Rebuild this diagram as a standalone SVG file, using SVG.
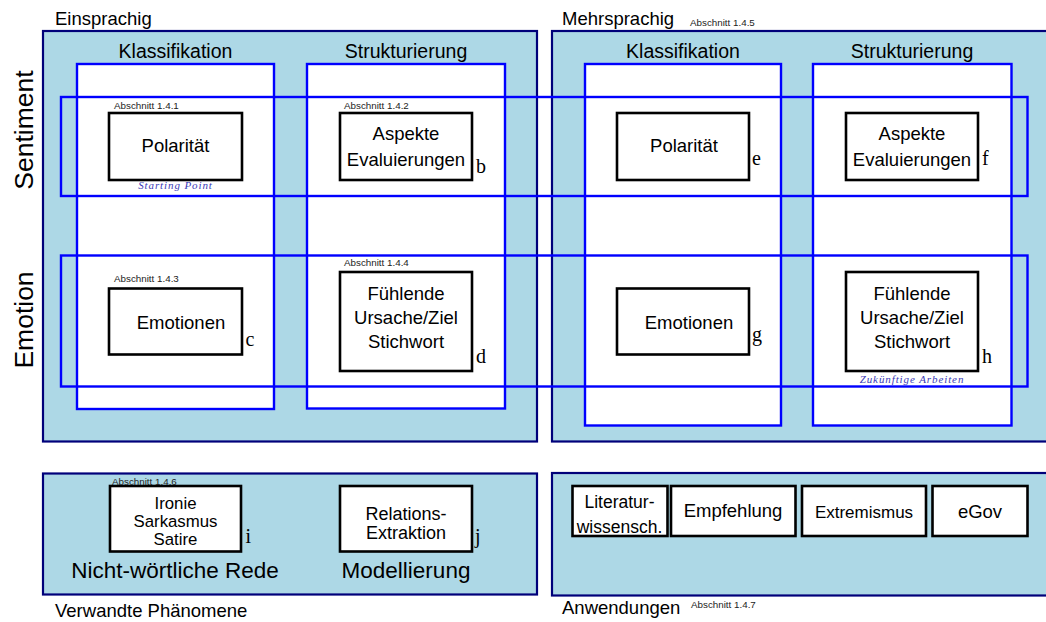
<svg xmlns="http://www.w3.org/2000/svg" width="1046" height="622" viewBox="0 0 1046 622">
<style>
.bg{fill:#ffffff}
.big{fill:#add8e6;stroke:#00007a;stroke-width:2.2}
.col{fill:#ffffff;stroke:#0000ff;stroke-width:2.4}
.row{fill:none;stroke:#0000ff;stroke-width:2.4}
.box{fill:#ffffff;stroke:#000000;stroke-width:2.6}
.t{font-family:"Liberation Sans",Arial,sans-serif;fill:#000000}
.head{font-size:19.5px;text-anchor:middle}
.lab{font-size:18.5px}
.bt{font-size:18.5px;text-anchor:middle}
.sec{font-size:9.8px;fill:#222222}
.side{font-size:26.5px;text-anchor:middle}
.ltr{font-family:"Liberation Serif","Times New Roman",serif;font-size:20px;fill:#000000}
.note{font-family:"Liberation Serif","Times New Roman",serif;font-style:italic;font-size:11px;fill:#3a3ab8;text-anchor:middle;letter-spacing:0.9px}
.sub{font-size:22.5px;text-anchor:middle}
</style>
<rect class="bg" x="0" y="0" width="1046" height="622"/>

<g id="einsprachig">
<rect class="big" x="43" y="31" width="494" height="410.5"/>
<text class="t lab" x="55" y="25">Einsprachig</text>
</g>
<g id="mehrsprachig">
<rect class="big" x="552" y="31" width="510" height="410.5"/>
<text class="t lab" x="562" y="25">Mehrsprachig</text>
<text class="t sec" x="690" y="26">Abschnitt 1.4.5</text>
</g>

<g id="col-ein-klassifikation">
<rect class="col" x="77" y="64" width="197" height="345"/>
<text class="t head" x="175.5" y="58">Klassifikation</text>
</g>
<g id="col-ein-strukturierung">
<rect class="col" x="307" y="64" width="198" height="344.5"/>
<text class="t head" x="406" y="58">Strukturierung</text>
</g>
<g id="col-mehr-klassifikation">
<rect class="col" x="585" y="64" width="196" height="361.5"/>
<text class="t head" x="683" y="58">Klassifikation</text>
</g>
<g id="col-mehr-strukturierung">
<rect class="col" x="813" y="64" width="198.5" height="361.5"/>
<text class="t head" x="912" y="58">Strukturierung</text>
</g>

<g id="row-sentiment">
<rect class="row" x="61" y="97" width="966.5" height="99"/>
<text class="t side" transform="translate(33,130) rotate(-90)">Sentiment</text>
</g>
<g id="row-emotion">
<rect class="row" x="61" y="255.5" width="966.5" height="131"/>
<text class="t side" transform="translate(33,320) rotate(-90)">Emotion</text>
</g>

<g id="node-polaritaet-1">
<text class="t sec" x="114" y="109">Abschnitt 1.4.1</text>
<rect class="box" x="109" y="113" width="133" height="67"/>
<text class="t bt" x="175.5" y="152">Polarität</text>
<text class="note" x="175.5" y="189">Starting Point</text>
</g>
<g id="node-aspekte-1">
<text class="t sec" x="344" y="109">Abschnitt 1.4.2</text>
<rect class="box" x="340" y="113" width="132" height="67"/>
<text class="t bt" x="406" y="140">Aspekte</text>
<text class="t bt" x="406" y="166">Evaluierungen</text>
<text class="ltr" x="476" y="173">b</text>
</g>
<g id="node-emotionen-1">
<text class="t sec" x="114" y="282">Abschnitt 1.4.3</text>
<rect class="box" x="109" y="288.5" width="133" height="66"/>
<text class="t bt" x="181" y="328.5">Emotionen</text>
<text class="ltr" x="245.5" y="346">c</text>
</g>
<g id="node-fuehlende-1">
<text class="t sec" x="344" y="266">Abschnitt 1.4.4</text>
<rect class="box" x="340" y="272" width="132" height="99"/>
<text class="t bt" x="406" y="300">Fühlende</text>
<text class="t bt" x="406" y="323.5">Ursache/Ziel</text>
<text class="t bt" x="406" y="348">Stichwort</text>
<text class="ltr" x="476" y="362.5">d</text>
</g>

<g id="node-polaritaet-2">
<rect class="box" x="617" y="113" width="132" height="67"/>
<text class="t bt" x="684" y="152">Polarität</text>
<text class="ltr" x="752" y="165">e</text>
</g>
<g id="node-aspekte-2">
<rect class="box" x="846" y="113" width="132" height="67"/>
<text class="t bt" x="912" y="140">Aspekte</text>
<text class="t bt" x="912" y="166">Evaluierungen</text>
<text class="ltr" x="982" y="165">f</text>
</g>
<g id="node-emotionen-2">
<rect class="box" x="617" y="288.5" width="132" height="66"/>
<text class="t bt" x="689" y="328.5">Emotionen</text>
<text class="ltr" x="752" y="341">g</text>
</g>
<g id="node-fuehlende-2">
<rect class="box" x="846" y="272" width="132" height="99"/>
<text class="t bt" x="912" y="300">Fühlende</text>
<text class="t bt" x="912" y="323.5">Ursache/Ziel</text>
<text class="t bt" x="912" y="348">Stichwort</text>
<text class="ltr" x="982" y="362.5">h</text>
<text class="note" x="912" y="383">Zukünftige Arbeiten</text>
</g>

<g id="verwandte">
<rect class="big" x="43" y="473.5" width="494" height="121"/>
<text class="t sub" x="175" y="578">Nicht-wörtliche Rede</text>
<text class="t sub" x="406" y="578">Modellierung</text>
<text class="t lab" x="55" y="617">Verwandte Phänomene</text>
</g>
<g id="node-ironie">
<rect class="box" x="110" y="486" width="131" height="65.5"/>
<text class="t sec" x="112" y="484.5">Abschnitt 1.4.6</text>
<text class="t bt" x="175.5" y="509" style="font-size:16.8px">Ironie</text>
<text class="t bt" x="175.5" y="526.5" style="font-size:16.8px">Sarkasmus</text>
<text class="t bt" x="175.5" y="544.5" style="font-size:16.8px">Satire</text>
<text class="ltr" x="245.5" y="543">i</text>
</g>
<g id="node-relations">
<rect class="box" x="340" y="486" width="132" height="65.5"/>
<text class="t bt" x="406" y="520" style="font-size:18px">Relations-</text>
<text class="t bt" x="406" y="538.5" style="font-size:18px">Extraktion</text>
<text class="ltr" x="475" y="543">j</text>
</g>

<g id="anwendungen">
<rect class="big" x="552" y="473" width="510" height="122.5"/>
<text class="t lab" x="562" y="614">Anwendungen</text>
<text class="t sec" x="691" y="608">Abschnitt 1.4.7</text>
</g>
<g id="node-literatur">
<rect class="box" x="572.5" y="486" width="95" height="50"/>
<text class="t bt" x="619.5" y="508" style="font-size:17.5px">Literatur-</text>
<text class="t bt" x="619.5" y="533" style="font-size:17.5px">wissensch.</text>
</g>
<g id="node-empfehlung">
<rect class="box" x="671" y="486" width="124.5" height="50"/>
<text class="t bt" x="733" y="516.5">Empfehlung</text>
</g>
<g id="node-extremismus">
<rect class="box" x="802" y="486" width="124" height="50"/>
<text class="t bt" x="864" y="518" style="font-size:17px">Extremismus</text>
</g>
<g id="node-egov">
<rect class="box" x="932.5" y="486" width="95" height="50"/>
<text class="t bt" x="980" y="518">eGov</text>
</g>
<g id="connectors"/>
</svg>
